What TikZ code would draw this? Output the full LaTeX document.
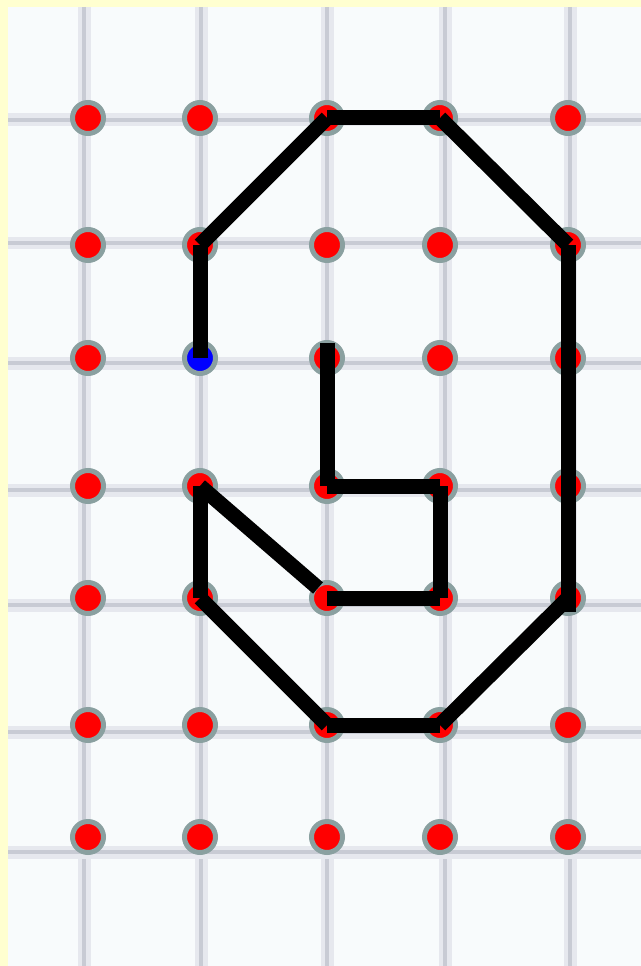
\documentclass[tikz,border=0pt]{standalone}
\usetikzlibrary{positioning}
\definecolor{paper}{RGB}{255,255,208}
\definecolor{sheet}{RGB}{248,251,252}
\definecolor{rulelight}{RGB}{230,232,238}
\definecolor{ruledark}{RGB}{200,203,212}
\definecolor{ring}{RGB}{138,160,160}

\begin{document}
\begin{tikzpicture}[x=0.02cm, y=-0.02cm,
    dot/.style={circle, draw=ring, fill=red, line width=0.1cm, minimum size=0.62cm, inner sep=0pt},
    seg/.style={line width=0.3cm, line cap=butt, black},
    gridline/.style={line width=0.26cm, rulelight},
    gridcore/.style={line width=0.09cm, ruledark}
  ]

  % Sheet and margins
  \useasboundingbox (0,0) rectangle (641,966);
  \fill[paper] (0,0) rectangle (641,966);
  \fill[sheet] (8,7) rectangle (641,966);

  % Grid paper
  \foreach \gx in {84,201,327,445,570} {
    \draw[gridline] (\gx,7) -- (\gx,966);
    \draw[gridcore] (\gx,7) -- (\gx,966);
  }
  \foreach \gy in {120,243,363,490,605,732,852} {
    \draw[gridline] (8,\gy) -- (641,\gy);
    \draw[gridcore] (8,\gy) -- (641,\gy);
  }

  % Pegs
  \foreach \x [count=\i] in {88,200,327,440,568} {
    \foreach \y [count=\j] in {118,245,358,486,598,725,837} {
      \def\dotcol{red}
      \ifnum\i=2 \ifnum\j=3 \def\dotcol{blue}\fi\fi
      \node[dot, fill=\dotcol] (p\i\j) at (\x,\y) {};
    }
  }

  % Loose ends
  \coordinate (endA) at (568,612);
  \coordinate (endB) at (318,588);
  \coordinate (endC) at (327,343);

  % Outer loop
  \draw[seg] (p23.center) -- (p22.center);
  \draw[seg] (p22.center) -- (p31.center);
  \draw[seg] (p31.center) -- (p41.center);
  \draw[seg] (p41.center) -- (p52.center);
  \draw[seg] (p52.center) -- (endA);
  \draw[seg] (p55.center) -- (p46.center);
  \draw[seg] (p46.center) -- (p36.center);
  \draw[seg] (p36.center) -- (p25.center);
  \draw[seg] (p25.center) -- (p24.center);
  \draw[seg] (p24.center) -- (endB);

  % Inner hook
  \draw[seg] (p35.center) -- (p45.center);
  \draw[seg] (p45.center) -- (p44.center);
  \draw[seg] (p44.center) -- (p34.center);
  \draw[seg] (p34.center) -- (endC);
\end{tikzpicture}
\end{document}
